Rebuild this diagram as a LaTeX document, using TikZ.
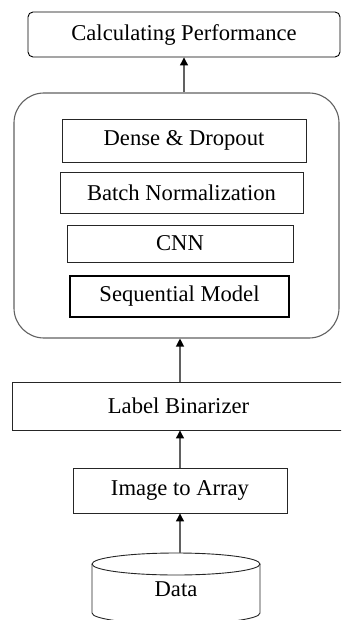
\documentclass[tikz,border=0pt]{standalone}
\usepackage{fontspec}
\setmainfont{Liberation Serif}
\usepackage{tikz}
\usetikzlibrary{arrows.meta}
\definecolor{linegray}{rgb}{0.38, 0.38, 0.38}

\begin{document}
\begin{tikzpicture}[x=1pt, y=-1pt,
    layer/.style={draw=black!85, line width=0.9pt, inner sep=0pt,
        font=\fontsize{22.6}{27}\selectfont},
    arr/.style={draw=linegray, line width=1.2pt,
        -{Triangle[width=8pt,length=8pt,color=black]}}]
    % Page frame
    \clip (0,0) rectangle (341,620);

    % Result
    \node[layer, rounded corners=5pt, draw=black, minimum width=312, minimum height=45]
        (perf) at (184,34.5) {Calculating Performance};

    % Model container
    \node[draw=linegray, line width=1.1pt, rounded corners=30pt,
        minimum width=325, minimum height=245] (model) at (176.5,215.5) {};

    % Layers inside the model
    \node[layer, minimum width=244, minimum height=43] (dense) at (184,140.5) {Dense \& Dropout};
    \node[layer, minimum width=243, minimum height=41] (batch) at (181.5,192.5) {Batch Normalization};
    \node[layer, minimum width=226, minimum height=37] (cnn) at (180,243.5) {CNN};
    \node[layer, line width=1.8pt, draw=black, minimum width=219, minimum height=41]
        (seq) at (179.5,296.5) {Sequential Model};

    % Preprocessing
    \node[layer, minimum width=333, minimum height=48] (label) at (178.5,406) {Label Binarizer};
    \node[layer, minimum width=214, minimum height=45] (img) at (180,490.5) {Image to Array};

    % Data store
    \node[font=\fontsize{22.6}{27}\selectfont, minimum width=168, minimum height=56]
        (data) at (176,589) {Data};
    \coordinate (dtop) at (176,553);
    \draw[black!85, line width=0.9pt] (176,564) ellipse [x radius=84, y radius=11];
    \draw[black!85, line width=0.9pt] (92,564) -- (92,613)
        arc[start angle=180, end angle=0, x radius=84, y radius=11] -- (260,564);

    % Arrows
    \draw[arr] (img.south |- dtop) -- (img.south);
    \draw[arr] (img.north) -- (img.north |- label.south);
    \draw[arr] (img.north |- label.north) -- (img.north |- model.south);
    \draw[arr] (perf.south |- model.north) -- (perf.south);
\end{tikzpicture}
\end{document}
